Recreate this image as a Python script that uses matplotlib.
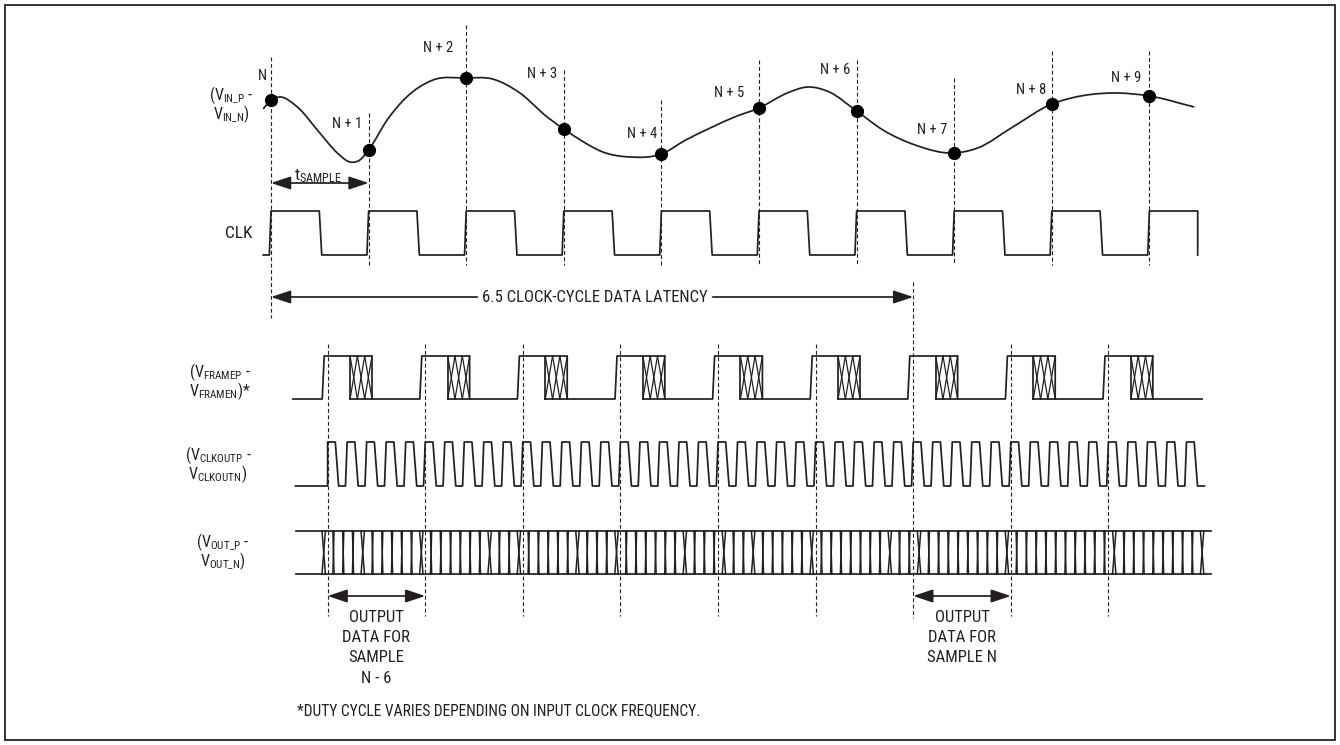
import numpy as np
import matplotlib
matplotlib.use("Agg")
import matplotlib.pyplot as plt
from matplotlib.path import Path
from matplotlib.patches import PathPatch, Rectangle, FancyArrowPatch, ArrowStyle

plt.rcParams['font.family'] = ['Roboto Condensed', 'DejaVu Sans Condensed',
                               'Liberation Sans Narrow', 'Liberation Sans']
plt.rcParams['font.stretch'] = 'condensed'

INK = '#231f20'

# time axis: 1 unit = one CLK period, 0 = rising CLK edge of sample N
PX = 97.6    # px per clock period
T0 = 271.0   # px column of sample N

# analog input (time in clock cycles, level in px rows from top)
vin_t = [-0.08, 0.0, 0.09, 0.27, 0.50, 0.68, 0.81, 0.91, 1.0, 1.19, 1.39, 1.66,
         2.0, 2.27, 2.55, 2.83, 3.0, 3.17, 3.40, 3.68, 4.0, 4.25, 4.5, 4.75, 5.0,
         5.29, 5.5, 5.72, 6.0, 6.27, 6.6, 7.0, 7.24, 7.6, 8.0, 8.2, 8.62, 9.0, 9.46]
vin_y = [109, 100, 97, 107, 133, 153, 162, 160, 150, 120, 97, 80,
         78, 79, 93, 117, 129, 140, 152, 157, 154, 140, 128, 117, 108,
         93, 87, 92, 111, 130, 145, 153, 148, 127, 104, 98, 93, 96, 107]

sample_labels = ['N', 'N + 1', 'N + 2', 'N + 3', 'N + 4', 'N + 5', 'N + 6', 'N + 7', 'N + 8', 'N + 9']
label_y = [76, 124, 48, 74, 134, 93, 70, 130, 90, 78]
label_gap = [0.04, 0.06, 0.13, 0.07, 0.04, 0.15, 0.06, 0.07, 0.06, 0.08]
line_top = [57, 113, 25, 70, 100, 60, 60, 78, 51, 51]

n_clk = 10            # CLK cycles drawn
frame_phase = 0.58    # frame / clkout edge relative to CLK edge
n_frame = 9
clkout_per_clk = 5
bits_per_clk = 10
out_first = 0.54
n_bits = 91
wide_bits = [0, 4, 10, 17, 20, 26, 30, 37, 41, 44, 50, 58, 61, 70, 81, 90]
latency_frames = 6

# row levels (px rows)
clk_hi, clk_lo = 211, 255
frm_hi, frm_lo = 356, 399
cko_hi, cko_lo = 442, 486
out_hi, out_lo = 531, 574

LW = 1.25
FS = 12       # main text
FS_N = 10.5   # sample labels
FS_SIG = 11.5 # signal names

fig = plt.figure(figsize=(13.4, 7.45), dpi=100)
ax = fig.add_axes([0, 0, 1, 1])
ax.set_xlim(-T0 / PX, (1340 - T0) / PX)
ax.set_ylim(745, 0)
ax.axis('off')

fig.patches.append(Rectangle((4.5 / 1340, 5 / 745), 1330 / 1340, 735 / 745,
                             transform=fig.transFigure, fill=False,
                             edgecolor='#333333', lw=1.4))


def dashed(x, y0, y1):
    ax.plot([x, x], [y0, y1], color=INK, lw=0.8, dashes=(3.5, 2.3))


def arrow(x0, x1, y, both=True):
    style = ArrowStyle('<|-|>' if both else '-|>', head_length=12, head_width=4)
    ax.add_patch(FancyArrowPatch((x0, y), (x1, y), arrowstyle=style, mutation_scale=1,
                                 shrinkA=0, shrinkB=0, color=INK, lw=LW))


# ---- analog input: cubic Hermite through read points, drawn as bezier path
t = np.array(vin_t)
y = np.array(vin_y, dtype=float)
m = np.gradient(y, t)
verts = [(t[0], y[0])]
codes = [Path.MOVETO]
for i in range(len(t) - 1):
    h = t[i + 1] - t[i]
    verts += [(t[i] + h / 3, y[i] + m[i] * h / 3),
              (t[i + 1] - h / 3, y[i + 1] - m[i + 1] * h / 3),
              (t[i + 1], y[i + 1])]
    codes += [Path.CURVE4] * 3
ax.add_patch(PathPatch(Path(verts, codes), fill=False, edgecolor=INK, lw=LW))

for k in range(n_clk):
    yk = vin_y[vin_t.index(float(k))]
    bottom = 318 if k == 0 else 265
    dashed(k, line_top[k], bottom)
    ax.plot([k], [yk], 'o', color='black', ms=8.5, zorder=5)
    ax.text(k - label_gap[k], label_y[k], sample_labels[k], ha='right', va='center',
            fontsize=FS_N, color=INK)

# ---- CLK
cx, cy = [-0.08], [clk_lo]
for k in range(n_clk):
    cx += [k - 0.017, k, k + 0.495]
    cy += [clk_lo, clk_hi, clk_hi]
    if k < n_clk - 1:
        cx += [k + 0.52, k + 1 - 0.017]
        cy += [clk_lo, clk_lo]
    else:
        cx += [k + 0.495]
        cy += [clk_lo]
ax.plot(cx, cy, color=INK, lw=LW)

# ---- FRAME
fx, fy = [0.225], [frm_lo]
for k in range(n_frame):
    r = k + 0.525
    fx += [r, r + 0.02, k + 1.035, k + 1.035]
    fy += [frm_lo, frm_hi, frm_hi, frm_lo]
    h0, h1 = k + 0.81, k + 1.035
    ax.plot([h0, h1], [frm_lo, frm_lo], color=INK, lw=LW)
    ax.plot([h0, h0], [frm_lo, frm_hi], color=INK, lw=LW)
    a = np.linspace(h0, h1, 4)
    for j in range(3):
        ax.plot([a[j], a[j + 1]], [frm_hi, frm_lo], color=INK, lw=0.9)
        ax.plot([a[j], a[j + 1]], [frm_lo, frm_hi], color=INK, lw=0.9)
fx += [9.54]
fy += [frm_lo]
ax.plot(fx, fy, color=INK, lw=LW)

# ---- CLKOUT
per = 1.0 / clkout_per_clk
ox, oy = [0.25, frame_phase], [cko_lo, cko_lo]
for j in range(n_frame * clkout_per_clk):
    r = frame_phase + j * per
    ox += [r, r + 0.079, r + 0.113, r + per - 0.017]
    oy += [cko_hi, cko_hi, cko_lo, cko_lo]
ax.plot(ox, oy, color=INK, lw=LW)

# ---- OUT bus
bit = 1.0 / bits_per_clk
out_end = out_first + (n_bits - 1) * bit + 0.09
ax.plot([0.26, out_end], [out_hi, out_hi], color=INK, lw=LW)
ax.plot([0.26, out_end], [out_lo, out_lo], color=INK, lw=LW)
for b in range(n_bits):
    tb = out_first + b * bit
    w = 0.035 if b in wide_bits else 0.012
    ax.plot([tb - w / 2, tb + w / 2], [out_hi, out_lo], color=INK, lw=1.1)
    ax.plot([tb - w / 2, tb + w / 2], [out_lo, out_hi], color=INK, lw=1.1)

# ---- frame reference lines
for k in range(n_frame):
    x = frame_phase + k
    if k == latency_frames:
        dashed(x, 282, 618)
    else:
        dashed(x, 344, 616)

# ---- annotations
arrow(0, 1, 183)
ax.text(0.24, 176, r'$\mathregular{t_{SAMPLE}}$', ha='left', va='center', fontsize=FS + 0.5, color=INK)

lat_end = frame_phase + latency_frames
lat = ax.text(3.32, 297, '6.5 CLOCK-CYCLE DATA LATENCY', ha='center', va='center',
              fontsize=FS, color=INK)
fig.canvas.draw()
bb = lat.get_window_extent().transformed(ax.transData.inverted())
arrow(bb.x0 - 0.05, 0, 297, both=False)
arrow(bb.x1 + 0.05, lat_end, 297, both=False)

arrow(frame_phase, frame_phase + 1, 596)
arrow(frame_phase + latency_frames, frame_phase + latency_frames + 1, 596)
for i, s in enumerate(['OUTPUT', 'DATA FOR', 'SAMPLE', 'N - 6']):
    ax.text(frame_phase + 0.5, 617 + 20.5 * i, s, ha='center', va='center', fontsize=FS, color=INK)
for i, s in enumerate(['OUTPUT', 'DATA FOR', 'SAMPLE N']):
    ax.text(frame_phase + latency_frames + 0.5, 617 + 20.5 * i, s, ha='center', va='center',
            fontsize=FS, color=INK)

ax.text(0.27, 711, '*DUTY CYCLE VARIES DEPENDING ON INPUT CLOCK FREQUENCY.', ha='left',
        va='center', fontsize=11.2, color=INK)

# ---- left signal names (two lines each, baselines in px rows)
names = [
    (231, 100, r'(V$_{\mathregular{IN\_P}}$ -', 119, r'V$_{\mathregular{IN\_N}}$)'),
    (220, 377, r'(V$_{\mathregular{FRAMEP}}$ -', 396, r'V$_{\mathregular{FRAMEN}}$)*'),
    (218, 460, r'(V$_{\mathregular{CLKOUTP}}$ -', 479, r'V$_{\mathregular{CLKOUTN}}$)'),
    (223, 547, r'(V$_{\mathregular{OUT\_P}}$ -', 566, r'V$_{\mathregular{OUT\_N}}$)'),
]
for xc, y1, s1, y2, s2 in names:
    xt = (xc - T0) / PX
    ax.text(xt, y1, s1, ha='center', va='baseline', fontsize=FS_SIG, color=INK)
    ax.text(xt, y2, s2, ha='center', va='baseline', fontsize=FS_SIG, color=INK)
ax.text((239 - T0) / PX, 233, 'CLK', ha='center', va='center', fontsize=FS + 0.5, color=INK)

fig.savefig('out.png', dpi=100)
